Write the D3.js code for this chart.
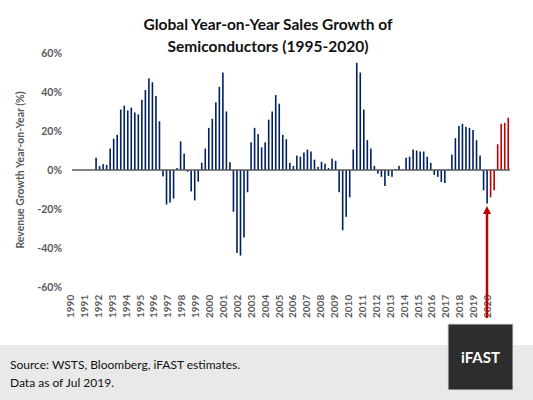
<!DOCTYPE html>
<html lang="en">
<head>
<meta charset="UTF-8" />
<title>Semiconductor sales growth</title>
<style>
  body { margin: 0; background: #fff; }
  text { font-family: Lato, "Open Sans", sans-serif; }
</style>
</head>
<body>
<script src="https://cdn.jsdelivr.net/npm/d3@7"></script>
<script>
// quarterly yoy growth (%)
var actualGrowth = [6.3, 2, 3, 2.6, 11, 16, 18, 31, 33, 30.5, 32, 29.5, 28.5, 36, 41, 47, 45, 38, 25,
  -3.3, -17.7, -16.7, -14.6, 1, 14.7, 8.4, -0.9, -11, -15.6, -6, 3.7, 11, 21.6, 26.3, 34.7, 42.6, 50, 30, 4,
  -21.4, -42.5, -43.9, -34.6, -11.4, 14.2, 21.6, 18.4, 11.6, 14.2, 25.8, 30, 38.4, 34, 18, 15.8, 3.7,
  2.1, 7.4, 6.8, 9, 10.5, 9.5, 5.3, 1.6, 4.2, 3.2, 1, 5.8, 4.7, -11.4, -30.9, -24, -14, 10.5, 55, 50, 31,
  15.3, 11, 2.1, -1.9, -3.5, -8.2, -3, -3.5, 0.5, 2.1, 0, 6.3, 6.8, 10.5, 10, 9.5, 9.5, 6.8, 3.7, -2.5,
  -3.5, -6.1, -6.7, 0.5, 7.9, 16.3, 22.6, 23.7, 22.1, 21.6, 20.5, 15.3, 7.4, -10.4, -17.2];
var estimateGrowth = [-14, -10.4, 13.2, 23.7, 24.2, 26.8];
var yearLabels = d3.range(1990, 2021).map(String);
var yTicks = [-60, -40, -20, 0, 20, 40, 60];

var W = 533, H = 400;
var svg = d3.select("body").append("svg").attr("width", W).attr("height", H);

var allBars = actualGrowth.map(function(v) { return {v: v, est: false}; })
  .concat(estimateGrowth.map(function(v) { return {v: v, est: true}; }));

var y = d3.scaleLinear().domain([-60, 60]).range([287, 53]);
var xBar = d3.scaleBand().domain(d3.range(allBars.length)).range([94.3, 510]);
var xYear = d3.scalePoint().domain(yearLabels).range([70, 487]);

// title
svg.append("text").attr("x", 268).attr("y", 30).attr("text-anchor", "middle")
  .attr("font-size", 15.5).attr("font-weight", "bold").attr("fill", "#111")
  .text("Global Year-on-Year Sales Growth of");
svg.append("text").attr("x", 268).attr("y", 52).attr("text-anchor", "middle")
  .attr("font-size", 15.5).attr("font-weight", "bold").attr("fill", "#111")
  .text("Semiconductors (1995-2020)");

// y axis labels
svg.append("g").selectAll("text").data(yTicks).enter().append("text")
  .attr("x", 62).attr("y", function(d) { return y(d) + 4; })
  .attr("text-anchor", "end").attr("font-size", 10.5).attr("font-weight", "bold")
  .attr("fill", "#595959").text(function(d) { return d + "%"; });

svg.append("text").attr("transform", "translate(24,170) rotate(-90)")
  .attr("text-anchor", "middle").attr("font-size", 10.5).attr("font-weight", "bold")
  .attr("fill", "#595959").text("Revenue Growth Year-on-Year (%)");

// bars
svg.append("g").selectAll("rect").data(allBars).enter().append("rect")
  .attr("x", function(d, i) { return xBar(i) + xBar.bandwidth() / 2 - 0.8; })
  .attr("width", 1.6)
  .attr("y", function(d) { return y(Math.max(0, d.v)); })
  .attr("height", function(d) { return Math.abs(y(d.v) - y(0)); })
  .attr("fill", function(d) { return d.est ? "#c00000" : "#002060"; });

// zero line
svg.append("line").attr("x1", 72).attr("x2", 510).attr("y1", y(0)).attr("y2", y(0))
  .attr("stroke", "#595959").attr("stroke-width", 1.3);

// year labels
svg.append("g").selectAll("text").data(yearLabels).enter().append("text")
  .attr("transform", function(d) { return "translate(" + (xYear(d) + 4) + ",318) rotate(-90)"; })
  .attr("font-size", 10).attr("font-weight", "bold").attr("fill", "#595959")
  .text(function(d) { return d; });

// arrow
svg.append("line").attr("x1", 487).attr("x2", 487).attr("y1", 318).attr("y2", 212)
  .attr("stroke", "#c00000").attr("stroke-width", 2.5);
svg.append("path").attr("d", "M483,214 L491,214 L487,206 Z").attr("fill", "#c00000");

// footer
svg.append("rect").attr("x", 0).attr("y", 345).attr("width", W).attr("height", 55).attr("fill", "#e9e9e9");
svg.append("text").attr("x", 10).attr("y", 369).attr("font-size", 12).attr("fill", "#111")
  .attr("font-family", "Open Sans").text("Source: WSTS, Bloomberg, iFAST estimates.");
svg.append("text").attr("x", 10).attr("y", 387).attr("font-size", 12).attr("fill", "#111")
  .attr("font-family", "Open Sans").text("Data as of Jul 2019.");
svg.append("rect").attr("x", 448).attr("y", 324).attr("width", 65).attr("height", 66)
  .attr("fill", "#2d2d2d").attr("stroke", "#ddd");
svg.append("text").attr("x", 480.5).attr("y", 363).attr("text-anchor", "middle")
  .attr("font-size", 15).attr("font-weight", "bold").attr("fill", "#fff")
  .attr("font-family", "Liberation Sans").text("iFAST");
</script>
</body>
</html>
